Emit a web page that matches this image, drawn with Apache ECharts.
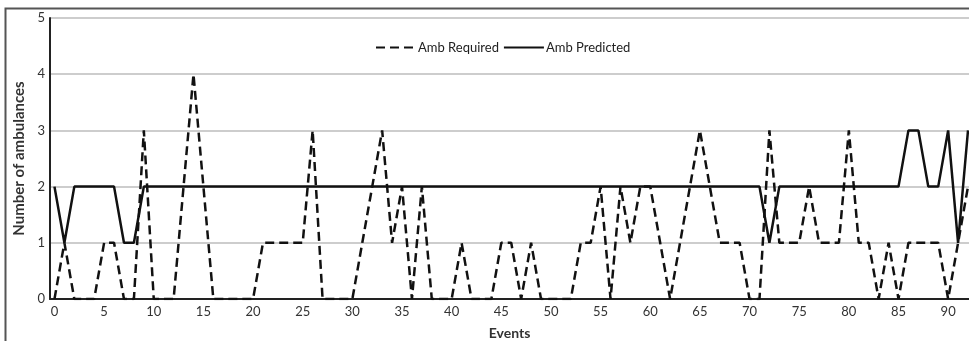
<!DOCTYPE html>
<html>
<head>
<meta charset="utf-8">
<script src="https://cdn.jsdelivr.net/npm/echarts@6/dist/echarts.min.js"></script>
<style>
html,body{margin:0;padding:0;background:#fff;}
#main{width:969px;height:341px;}
</style>
</head>
<body>
<div id="main"></div>
<script>
var events = [0,1,2,3,4,5,6,7,8,9,10,11,12,13,14,15,16,17,18,19,20,21,22,23,24,25,26,27,28,29,30,31,32,33,34,35,36,37,38,39,40,41,42,43,44,45,46,47,48,49,50,51,52,53,54,55,56,57,58,59,60,61,62,63,64,65,66,67,68,69,70,71,72,73,74,75,76,77,78,79,80,81,82,83,84,85,86,87,88,89,90,91,92];
var ambRequired = [0,1,0,0,0,1,1,0,0,3,0,0,0,2,4,2,0,0,0,0,0,1,1,1,1,1,3,0,0,0,0,1,2,3,1,2,0,2,0,0,0,1,0,0,0,1,1,0,1,0,0,0,0,1,1,2,0,2,1,2,2,1,0,1,2,3,2,1,1,1,0,0,3,1,1,1,2,1,1,1,3,1,1,0,1,0,1,1,1,1,0,1,2];
var ambPredicted = [2,1,2,2,2,2,2,1,1,2,2,2,2,2,2,2,2,2,2,2,2,2,2,2,2,2,2,2,2,2,2,2,2,2,2,2,2,2,2,2,2,2,2,2,2,2,2,2,2,2,2,2,2,2,2,2,2,2,2,2,2,2,2,2,2,2,2,2,2,2,2,2,1,2,2,2,2,2,2,2,2,2,2,2,2,2,3,3,2,2,3,1,3];
var xTicks = [0,5,10,15,20,25,30,35,40,45,50,55,60,65,70,75,80,85,90];
var yTicks = [0,1,2,3,4,5];

function pairs(xs, ys){ return xs.map(function(x,i){ return [x, ys[i]]; }); }

var chart = echarts.init(document.getElementById('main'));
var font = 'Lato, Open Sans, sans-serif';
chart.setOption({
  animation:false,
  backgroundColor:'#fff',
  textStyle:{fontFamily:font},
  grid:{left:50,right:0,top:18,bottom:42,containLabel:false,outerBoundsMode:'none'},
  graphic:[{
    type:'polyline',
    shape:{points:[[5.5,341],[5.5,8.5],[969,8.5]]},
    style:{stroke:'#555',lineWidth:2,fill:null}
  }],
  legend:{
    left:370, top:36,
    itemWidth:40, itemHeight:12, itemGap:4,
    itemStyle:{color:'transparent',borderWidth:0,opacity:0},
    textStyle:{fontSize:13,color:'#222',fontFamily:font,padding:[0,0,0,-3]},
    data:['Amb Required','Amb Predicted']
  },
  xAxis:{
    type:'value', min:-0.45, max:92.1,
    name:'Events', nameLocation:'middle', nameGap:27,
    nameTextStyle:{fontSize:14,fontWeight:'bold',color:'#333',fontFamily:font},
    axisLine:{onZero:false,lineStyle:{color:'#222',width:2}},
    axisTick:{show:false},
    axisLabel:{customValues:xTicks,fontSize:13,color:'#333',margin:6,fontFamily:font},
    splitLine:{show:false}
  },
  yAxis:{
    type:'value', min:0, max:5, interval:1,
    name:'Number of ambulances', nameLocation:'middle', nameGap:18,
    nameTextStyle:{fontSize:15,fontWeight:'bold',color:'#333',fontFamily:font},
    axisLine:{show:true,onZero:false,lineStyle:{color:'#222',width:2}},
    axisTick:{show:false},
    axisLabel:{fontSize:13,color:'#333',margin:5,fontFamily:font},
    splitLine:{show:true,lineStyle:{color:'#bdbdbd',width:1.5}}
  },
  series:[{
    name:'Amb Required', type:'line', symbol:'none',
    data:pairs(events, ambRequired),
    lineStyle:{color:'#111',width:2.5,type:[9,5]},
    itemStyle:{color:'#111'}
  },{
    name:'Amb Predicted', type:'line', symbol:'none',
    data:pairs(events, ambPredicted),
    lineStyle:{color:'#111',width:2.5,type:'solid'},
    itemStyle:{color:'#111'}
  }]
});
</script>
</body>
</html>
